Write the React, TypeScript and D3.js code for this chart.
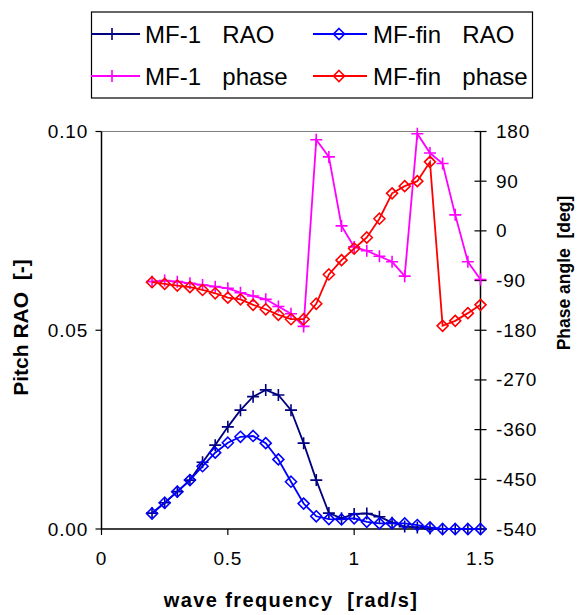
import React from "react";
import * as d3 from "d3";

const freq = [0.2, 0.25, 0.3, 0.35, 0.4, 0.45, 0.5, 0.55, 0.6, 0.65, 0.7, 0.75, 0.8, 0.85, 0.9, 0.95, 1.0, 1.05, 1.1, 1.15, 1.2, 1.25, 1.3, 1.35, 1.4, 1.45, 1.5];
const mf1Rao = [0.004, 0.0066, 0.0094, 0.0123, 0.0168, 0.0211, 0.0257, 0.0299, 0.0333, 0.035, 0.0337, 0.0299, 0.0216, 0.0123, 0.004, 0.0027, 0.0038, 0.0039, 0.0031, 0.0016, 0.0006, 0.0004, 0.0001, 0.0, 0.0, 0.0, 0.0];
const mfFinRao = [0.0039, 0.0066, 0.0094, 0.0123, 0.0158, 0.0192, 0.0217, 0.0232, 0.0234, 0.0216, 0.0175, 0.0119, 0.0064, 0.0032, 0.0025, 0.0024, 0.0027, 0.0018, 0.0014, 0.0014, 0.0014, 0.001, 0.0004, 0.0, 0.0, 0.0, 0.0];
const mf1Phase = [-92, -90, -92, -95, -98, -101, -104, -112, -118, -124, -137, -150, -173, 165, 134, 9, -29, -36, -46, -56, -82, 176, 141, 122, 29, -56, -88];
const mfFinPhase = [-93, -96, -99, -102, -107, -113, -121, -124, -134, -142, -152, -160, -160, -132, -79, -53, -32, -12, 22, 68, 81, 90, 125, -172, -163, -149, -134];

const xTicks = [0, 0.5, 1, 1.5];
const xTickLabels = ["0", "0.5", "1", "1.5"];
const yLeftTicks = [0, 0.05, 0.1];
const yLeftTickLabels = ["0.00", "0.05", "0.10"];
const yRightTicks = [180, 90, 0, -90, -180, -270, -360, -450, -540];

type Series = { name: string; values: number[]; axis: "L" | "R"; color: string; marker: "plus" | "diamond" };
const series: Series[] = [
  { name: "MF-1  RAO", values: mf1Rao, axis: "L", color: "#000080", marker: "plus" },
  { name: "MF-fin  RAO", values: mfFinRao, axis: "L", color: "#0000FF", marker: "diamond" },
  { name: "MF-1  phase", values: mf1Phase, axis: "R", color: "#FF00FF", marker: "plus" },
  { name: "MF-fin  phase", values: mfFinPhase, axis: "R", color: "#FF0000", marker: "diamond" },
];

const X0 = 101.5, X1 = 480.5, Y0 = 529, Y1 = 131.5;
const x = d3.scaleLinear().domain([0, 1.5]).range([X0, X1]);
const yL = d3.scaleLinear().domain([0, 0.1]).range([Y0, Y1]);
const yR = d3.scaleLinear().domain([-540, 180]).range([Y0, Y1]);

function Marker({ type, cx, cy, color }: { type: string; cx: number; cy: number; color: string }) {
  if (type === "plus") {
    const s = 6;
    return (
      <path d={`M${cx - s},${cy}H${cx + s}M${cx},${cy - s}V${cy + s}`} stroke={color} strokeWidth={1.6} fill="none" />
    );
  }
  const s = 5.5;
  return (
    <path d={`M${cx},${cy - s}L${cx + s},${cy}L${cx},${cy + s}L${cx - s},${cy}Z`} stroke={color} strokeWidth={1.6} fill="none" />
  );
}

const font = "'Liberation Sans', Arial, sans-serif";

export default function App() {
  const legendItems = [
    { s: series[0], lx0: 91, lx1: 140, mx: 112, tx: 145, ly: 34 },
    { s: series[1], lx0: 313, lx1: 367, mx: 339, tx: 373, ly: 34 },
    { s: series[2], lx0: 91, lx1: 140, mx: 112, tx: 145, ly: 76 },
    { s: series[3], lx0: 313, lx1: 367, mx: 339, tx: 373, ly: 76 },
  ];
  return (
    <svg width={579} height={615} style={{ position: "absolute", left: 0, top: 0, background: "#fff" }} fontFamily={font}>
      <rect x={0} y={0} width={579} height={615} fill="#fff" />
      {/* plot frame */}
      <line x1={X0} x2={X1} y1={Y1} y2={Y1} stroke="#808080" strokeWidth={1.2} />
      <line x1={X0} x2={X0} y1={Y1} y2={Y0} stroke="#000" strokeWidth={1.5} />
      <line x1={X1} x2={X1} y1={Y1} y2={Y0} stroke="#000" strokeWidth={1.5} />
      <line x1={X0} x2={X1} y1={Y0} y2={Y0} stroke="#000" strokeWidth={1.5} />
      {/* left ticks */}
      {yLeftTicks.map((t, i) => (
        <g key={"yl" + i}>
          <line x1={X0 - 6} x2={X0} y1={yL(t)} y2={yL(t)} stroke="#000" strokeWidth={1.2} />
          <text x={88} y={yL(t) + 6.5} textAnchor="end" fontSize={19} letterSpacing={0.8} fill="#000">{yLeftTickLabels[i]}</text>
        </g>
      ))}
      {/* right ticks */}
      {yRightTicks.map((t, i) => (
        <g key={"yr" + i}>
          <line x1={X1 - 6} x2={X1 + 6} y1={yR(t)} y2={yR(t)} stroke="#000" strokeWidth={1.2} />
          <text x={496} y={yR(t) + 6.5} textAnchor="start" fontSize={19} letterSpacing={0.8} fill="#000">{String(t)}</text>
        </g>
      ))}
      {/* x ticks */}
      {xTicks.map((t, i) => (
        <g key={"xt" + i}>
          {t < 1.5 && <line x1={x(t)} x2={x(t)} y1={Y0} y2={Y0 + 6} stroke="#000" strokeWidth={1.2} />}
          <text x={x(t)} y={565} textAnchor="middle" fontSize={19} letterSpacing={0.8} fill="#000">{xTickLabels[i]}</text>
        </g>
      ))}
      {/* series */}
      {series.map((s, si) => {
        const ys = s.axis === "L" ? yL : yR;
        const line = d3.line<number>().x((_, i) => x(freq[i])).y((v) => ys(v));
        return (
          <g key={"s" + si}>
            <path d={line(s.values) || ""} fill="none" stroke={s.color} strokeWidth={1.8} />
            {s.values.map((v, i) => (
              <Marker key={i} type={s.marker} cx={x(freq[i])} cy={ys(v)} color={s.color} />
            ))}
          </g>
        );
      })}
      {/* axis titles */}
      <text transform="translate(28,327.5) rotate(-90)" textAnchor="middle" fontSize={21} fontWeight="bold" style={{ whiteSpace: "pre" }} fill="#000">Pitch RAO  [-]</text>
      <text transform="translate(570,273) rotate(-90)" textAnchor="middle" fontSize={17.5} fontWeight="bold" style={{ whiteSpace: "pre" }} fill="#000">Phase angle  [deg]</text>
      <text x={291} y={607} textAnchor="middle" fontSize={20} fontWeight="bold" letterSpacing={1.4} style={{ whiteSpace: "pre" }} fill="#000">wave frequency  [rad/s]</text>
      {/* legend */}
      <rect x={91.5} y={12} width={441} height={86} fill="#fff" stroke="#000" strokeWidth={1.2} />
      {legendItems.map((it, i) => (
        <g key={"lg" + i}>
          <line x1={it.lx0} x2={it.lx1} y1={it.ly} y2={it.ly} stroke={it.s.color} strokeWidth={1.8} />
          <Marker type={it.s.marker} cx={it.mx} cy={it.ly} color={it.s.color} />
          <text x={it.tx} y={it.ly + 8.5} fontSize={24} wordSpacing={4} style={{ whiteSpace: "pre" }} fill="#000">{it.s.name}</text>
        </g>
      ))}
    </svg>
  );
}
